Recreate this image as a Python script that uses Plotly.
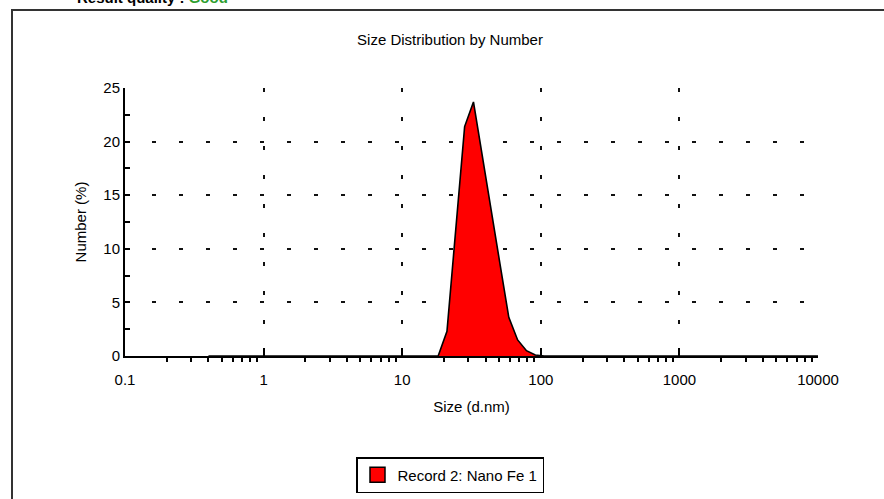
import plotly.graph_objects as go

# Size classes (d.nm) and number distribution (%) for Record 2
size_nm = [
    0.4, 0.4632, 0.5365, 0.6213, 0.7195, 0.8332, 0.9649, 1.117, 1.294, 1.499,
    1.736, 2.010, 2.328, 2.696, 3.122, 3.615, 4.187, 4.849, 5.615, 6.503,
    7.531, 8.721, 10.10, 11.70, 13.54, 15.69, 18.17, 21.04, 24.36, 28.21,
    32.67, 37.84, 43.82, 50.75, 58.77, 68.06, 78.82, 91.28, 105.7, 122.4,
    141.8, 164.2, 190.1, 220.2, 255.0, 295.3, 342.0, 396.1, 458.7, 531.2,
    615.1, 712.4, 825.0, 955.4, 1106, 1281, 1484, 1718, 1990, 2305,
    2669, 3091, 3580, 4145, 4801, 5560, 6439, 7456, 8635, 10000,
]
number_pct = [
    0, 0, 0, 0, 0, 0, 0, 0, 0, 0,
    0, 0, 0, 0, 0, 0, 0, 0, 0, 0,
    0, 0, 0, 0, 0, 0, 0, 2.3, 12.0, 21.4,
    23.7, 18.6, 13.3, 8.6, 3.6, 1.5, 0.5, 0.1, 0, 0,
    0, 0, 0, 0, 0, 0, 0, 0, 0, 0,
    0, 0, 0, 0, 0, 0, 0, 0, 0, 0,
    0, 0, 0, 0, 0, 0, 0, 0, 0, 0,
]
record_name = "Record 2: Nano Fe 1"

x_tickvals = [0.1, 1, 10, 100, 1000, 10000]
x_ticktext = ["0.1", "1", "10", "100", "1000", "10000"]
y_tickvals = [0, 5, 10, 15, 20, 25]

W, H = 884, 499
L, R, T, B = 125, 66, 88, 143
PW, PH = W - L - R, H - T - B


def px_x(p):
    return (p - L) / PW


def px_y(p):
    return (H - B - p) / PH


FONT = "Liberation Sans, Arial, sans-serif"
FS = 15

fig = go.Figure()

fig.add_trace(go.Scatter(
    x=size_nm, y=number_pct, mode="lines",
    fill="tozeroy", fillcolor="#ff0000",
    line=dict(color="black", width=1.6),
    showlegend=False, hoverinfo="x+y",
))
# legend entry with a boxed swatch
fig.add_trace(go.Scatter(
    x=[None], y=[None], mode="markers", name=record_name,
    marker=dict(symbol="square", size=15, color="#ff0000",
                line=dict(color="black", width=1.5)),
))

minor_x = [m * 10 ** k for k in range(-1, 4) for m in range(2, 10)]

fig.update_xaxes(
    type="log", range=[-1, 4], automargin=False,
    tickvals=x_tickvals, ticktext=x_ticktext,
    ticks="inside", ticklen=8, tickwidth=2, tickcolor="black",
    ticklabelstandoff=9,
    showline=True, linewidth=2, linecolor="black",
    showgrid=True, gridcolor="#111", gridwidth=2, griddash="4px,25px",
    minor=dict(tickvals=minor_x, ticks="outside", ticklen=4,
               tickwidth=1.5, tickcolor="black", showgrid=False),
    tickfont=dict(family=FONT, size=FS, color="black"),
    title=dict(text="Size (d.nm)", font=dict(family=FONT, size=FS, color="black"),
               standoff=14),
    zeroline=False,
)
fig.update_yaxes(
    range=[0, 25], automargin=False, tickvals=y_tickvals,
    ticks="inside", ticklen=5, tickwidth=2, tickcolor="black",
    showline=True, linewidth=2, linecolor="black",
    showgrid=True, gridcolor="#111", gridwidth=2, griddash="4px,23px",
    minor=dict(dtick=2.5, ticks="inside", ticklen=5, tickwidth=1.5,
               tickcolor="black", showgrid=False),
    tickfont=dict(family=FONT, size=FS, color="black"),
    title=dict(text="Number (%)", font=dict(family=FONT, size=FS, color="black"),
               standoff=13),
    zeroline=False,
)

shapes = [
    # report frame
    dict(type="line", xref="paper", yref="paper",
         x0=px_x(12), x1=px_x(12), y0=px_y(10), y1=px_y(520),
         line=dict(color="#333", width=2)),
    dict(type="line", xref="paper", yref="paper",
         x0=px_x(11), x1=px_x(900), y0=px_y(10), y1=px_y(10),
         line=dict(color="#333", width=2)),
]

annotations = [
    dict(text="<b>Result quality : <span style='color:#2e9e2e'>Good</span></b>",
         xref="paper", yref="paper", x=px_x(75), y=px_y(8),
         xanchor="left", yanchor="bottom", showarrow=False,
         font=dict(family=FONT, size=15, color="black")),
]

fig.update_layout(
    width=W, height=H,
    margin=dict(l=L, r=R, t=T, b=B, autoexpand=False),
    paper_bgcolor="white", plot_bgcolor="white",
    title=dict(text="Size Distribution by Number", xref="container",
               x=450 / W, y=1 - 40 / H, xanchor="center", yanchor="middle",
               font=dict(family=FONT, size=FS, color="black")),
    legend=dict(x=px_x(356), y=px_y(475), xanchor="left", yanchor="middle",
                bgcolor="white", bordercolor="black", borderwidth=1.5,
                font=dict(family=FONT, size=FS, color="black")),
    shapes=shapes, annotations=annotations,
    font=dict(family=FONT),
)

fig.write_html("out.html")
